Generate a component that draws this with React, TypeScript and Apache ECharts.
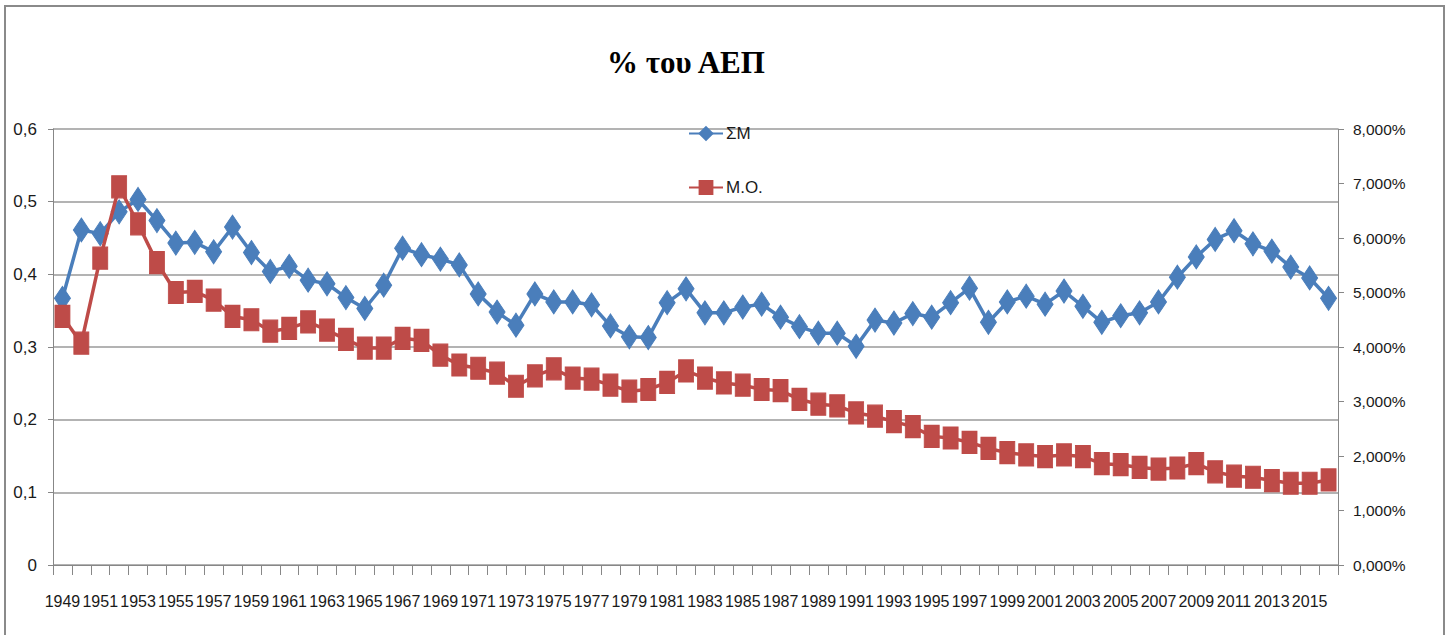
import React, { useEffect, useRef } from "react";
import * as echarts from "echarts";

const years: string[] = [
  "1949", "1950", "1951", "1952", "1953", "1954", "1955", "1956", "1957", "1958",
  "1959", "1960", "1961", "1962", "1963", "1964", "1965", "1966", "1967", "1968",
  "1969", "1970", "1971", "1972", "1973", "1974", "1975", "1976", "1977", "1978",
  "1979", "1980", "1981", "1982", "1983", "1984", "1985", "1986", "1987", "1988",
  "1989", "1990", "1991", "1992", "1993", "1994", "1995", "1996", "1997", "1998",
  "1999", "2000", "2001", "2002", "2003", "2004", "2005", "2006", "2007", "2008",
  "2009", "2010", "2011", "2012", "2013", "2014", "2015", "2016",
];

// ΣΜ (left axis)
const smValues: number[] = [
  0.367, 0.461, 0.456, 0.486, 0.503, 0.474, 0.443, 0.444, 0.431, 0.465,
  0.430, 0.404, 0.411, 0.392, 0.387, 0.368, 0.353, 0.385, 0.436, 0.427,
  0.421, 0.413, 0.373, 0.348, 0.330, 0.373, 0.362, 0.362, 0.358, 0.329,
  0.314, 0.313, 0.361, 0.380, 0.347, 0.347, 0.355, 0.359, 0.341, 0.328,
  0.319, 0.319, 0.301, 0.337, 0.333, 0.346, 0.341, 0.361, 0.381, 0.334,
  0.362, 0.370, 0.359, 0.377, 0.356, 0.334, 0.343, 0.347, 0.362, 0.396,
  0.424, 0.448, 0.460, 0.442, 0.432, 0.410, 0.395, 0.367,
];

// M.O. (right axis, %)
const moValues: number[] = [
  4.56, 4.07, 5.63, 6.94, 6.26, 5.55, 5.00, 5.02, 4.86, 4.56,
  4.50, 4.29, 4.34, 4.46, 4.31, 4.14, 3.98, 3.98, 4.16, 4.12,
  3.85, 3.67, 3.61, 3.52, 3.28, 3.47, 3.60, 3.43, 3.41, 3.30,
  3.19, 3.22, 3.35, 3.56, 3.43, 3.34, 3.30, 3.22, 3.20, 3.04,
  2.95, 2.92, 2.79, 2.73, 2.63, 2.54, 2.36, 2.33, 2.25, 2.14,
  2.06, 2.02, 1.99, 2.02, 1.99, 1.86, 1.84, 1.79, 1.76, 1.78,
  1.86, 1.71, 1.63, 1.61, 1.55, 1.50, 1.50, 1.56,
];

const titleText = "% του ΑΕΠ";
const seriesNames = ["ΣΜ", "Μ.Ο."];

const labelFont = "'Liberation Sans', Arial, sans-serif";

export default function App() {
  const ref = useRef<HTMLDivElement>(null);

  useEffect(() => {
    if (!ref.current) return;
    const chart = echarts.init(ref.current, undefined, { renderer: "svg" });
    const axisGray = "#878787";
    chart.setOption({
      animation: false,
      backgroundColor: "#ffffff",
      title: {
        text: titleText,
        left: 602,
        top: 42,
        textStyle: {
          fontFamily: "'Liberation Serif', 'Times New Roman', serif",
          fontSize: 31,
          fontWeight: "bold",
          color: "#000000",
        },
      },
      legend: {
        orient: "vertical",
        left: 683,
        top: 120,
        itemWidth: 34,
        itemHeight: 16,
        itemGap: 37,
        textStyle: { fontFamily: labelFont, fontSize: 17, color: "#1a1a1a", padding: [0, 0, 0, -2] },
        data: seriesNames,
      },
      graphic: [
        {
          type: "rect",
          shape: { x: 5, y: 6, width: 1439, height: 660 },
          style: { fill: "none", stroke: "#8a8a8a", lineWidth: 2 },
          silent: true,
        },
      ],
      grid: { left: 53, right: 111, top: 129, bottom: 70, containLabel: false },
      xAxis: {
        type: "category",
        data: years,
        boundaryGap: true,
        axisLine: { lineStyle: { color: axisGray, width: 1 } },
        axisTick: { show: true, interval: 0, length: 10, lineStyle: { color: axisGray } },
        axisLabel: {
          interval: 1,
          margin: 28,
          fontFamily: labelFont,
          fontSize: 16,
          color: "#1a1a1a",
          showMinLabel: true,
          hideOverlap: false,
        },
        splitLine: { show: false },
      },
      yAxis: [
        {
          type: "value",
          min: 0,
          max: 0.6,
          interval: 0.1,
          position: "left",
          axisLine: { show: true, lineStyle: { color: axisGray, width: 1 } },
          axisTick: { show: true, length: 5, lineStyle: { color: axisGray } },
          axisLabel: {
            margin: 16,
            fontFamily: labelFont,
            fontSize: 17,
            color: "#1a1a1a",
            formatter: (v: number) => (v === 0 ? "0" : v.toFixed(1).replace(".", ",")),
          },
          splitLine: { show: true, lineStyle: { color: "#9a9a9a", width: 1.5 } },
        },
        {
          type: "value",
          min: 0,
          max: 8,
          interval: 1,
          position: "right",
          axisLine: { show: true, lineStyle: { color: axisGray, width: 1 } },
          axisTick: { show: true, length: 6, lineStyle: { color: axisGray } },
          axisLabel: {
            margin: 15,
            fontFamily: labelFont,
            fontSize: 15.5,
            color: "#1a1a1a",
            formatter: (v: number) => v.toFixed(3).replace(".", ",") + "%",
          },
          splitLine: { show: false },
        },
      ],
      series: [
        {
          name: seriesNames[0],
          type: "line",
          yAxisIndex: 0,
          data: smValues,
          symbol: "diamond",
          symbolSize: [16, 24],
          showAllSymbol: true,
          lineStyle: { color: "#4a7ebb", width: 3.5 },
          itemStyle: { color: "#4a7ebb", borderColor: "#4a7ebb", borderWidth: 1 },
          z: 2,
        },
        {
          name: seriesNames[1],
          type: "line",
          yAxisIndex: 1,
          data: moValues,
          symbol: "rect",
          symbolSize: [15, 22],
          showAllSymbol: true,
          lineStyle: { color: "#be4b48", width: 3.5 },
          itemStyle: { color: "#be4b48", borderColor: "#be4b48", borderWidth: 1 },
          z: 3,
        },
      ],
    });
    return () => chart.dispose();
  }, []);

  return (
    <div
      ref={ref}
      style={{ position: "fixed", left: 0, top: 0, width: 1449, height: 635, background: "#fff" }}
    />
  );
}
